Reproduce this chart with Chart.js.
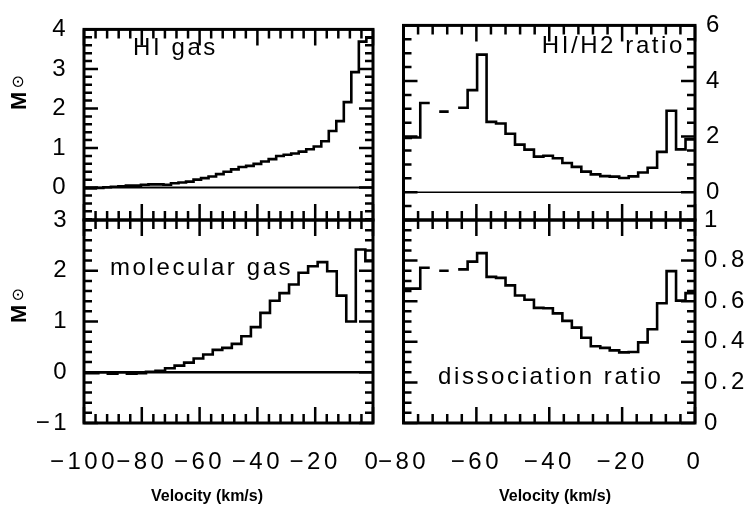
<!DOCTYPE html>
<html>
<head>
<meta charset="utf-8">
<script src="https://cdn.jsdelivr.net/npm/chart.js@4.4.0/dist/chart.umd.min.js"></script>
<style>
  html, body { margin: 0; padding: 0; background: #fff; }
  #wrap { position: relative; width: 754px; height: 514px; background: #fff; }
  #wrap canvas { position: absolute; left: 0; top: 0; }
</style>
</head>
<body>
<div id="wrap">
  <canvas id="cTL" width="754" height="514"></canvas>
  <canvas id="cTR" width="754" height="514"></canvas>
  <canvas id="cBL" width="754" height="514"></canvas>
  <canvas id="cBR" width="754" height="514"></canvas>
</div>
<script>
// ---------------- data ----------------
// HI gas (upper left), bin centres in km/s and mass in solar masses
const hiVelocity = [-99.8, -97.2, -94.6, -92.0, -89.4, -86.8, -84.2, -81.6, -79.0, -76.4,
                    -73.8, -71.2, -68.6, -66.0, -63.4, -60.8, -58.2, -55.6, -53.0, -50.4,
                    -47.8, -45.2, -42.6, -40.0, -37.4, -34.8, -32.2, -29.6, -27.0, -24.4,
                    -21.8, -19.2, -16.6, -14.0, -11.4, -8.8, -6.2, -3.6, -1.0];
const hiMass = [-0.02, -0.02, -0.01, 0.01, 0.02, 0.03, 0.05, 0.05, 0.07, 0.08,
                0.08, 0.07, 0.11, 0.13, 0.15, 0.20, 0.24, 0.28, 0.34, 0.40,
                0.46, 0.52, 0.55, 0.60, 0.66, 0.72, 0.80, 0.83, 0.86, 0.91,
                0.97, 1.04, 1.17, 1.43, 1.68, 2.16, 2.92, 3.69, 3.79];
const hiBinWidth = 2.6;

// molecular gas (lower left)
const h2Velocity = [-100.0, -96.7, -93.4, -90.1, -86.8, -83.5, -80.2, -76.9, -73.6, -70.3,
                    -67.0, -63.7, -60.4, -57.1, -53.8, -50.5, -47.2, -43.9, -40.6, -37.3,
                    -34.0, -30.7, -27.4, -24.1, -20.8, -17.5, -14.2, -10.9, -7.6, -4.3, -1.0];
const h2Mass = [-0.02, -0.02, 0.00, -0.03, 0.00, -0.03, -0.02, 0.01, 0.03, 0.08,
                0.13, 0.19, 0.27, 0.35, 0.44, 0.48, 0.56, 0.71, 0.89, 1.17,
                1.41, 1.56, 1.73, 1.96, 2.09, 2.17, 1.99, 1.51, 1.00, 2.42, 2.19];
const h2BinWidth = 3.3;

// ratios (right panels)
const ratioVelocity = [-79.3, -76.7, -74.1, -71.5, -68.9, -66.3, -63.7, -61.1, -58.5, -55.9,
                       -53.3, -50.7, -48.1, -45.5, -42.9, -40.3, -37.7, -35.1, -32.5, -29.9,
                       -27.3, -24.7, -22.1, -19.5, -16.9, -14.3, -11.7, -9.1, -6.5, -3.9, -1.3];
const hiH2Ratio = [1.95, 1.97, 3.21, null, 2.90, null, 3.04, 3.67, 4.95, 2.53,
                   2.47, 2.10, 1.71, 1.53, 1.28, 1.31, 1.22, 1.05, 0.91, 0.74,
                   0.64, 0.58, 0.56, 0.51, 0.57, 0.71, 0.88, 1.45, 2.93, 1.54, 1.90];
const dissociationRatio = [0.662, 0.662, 0.765, null, 0.750, null, 0.757, 0.795, 0.837, 0.720,
                           0.715, 0.678, 0.628, 0.607, 0.567, 0.565, 0.540, 0.503, 0.470, 0.420,
                           0.378, 0.370, 0.358, 0.348, 0.350, 0.397, 0.462, 0.590, 0.748, 0.603, 0.640];
const ratioBinWidth = 2.6;

// tick labels
const leftXTicks  = [-100, -80, -60, -40, -20, 0];
const rightXTicks = [-80, -60, -40, -20, 0];
const hiYTicks    = [0, 1, 2, 3, 4];
const ratioYTicks = [0, 2, 4, 6];
const h2YTicks    = [-1, 0, 1, 2, 3];
const dissYTicks  = [0, 0.2, 0.4, 0.6, 0.8, 1];

// ---------------- helpers ----------------
const W = 754, H = 514;
const FONT = "'Liberation Sans', Arial, Helvetica, sans-serif";
const Y_AXIS_W = 70, X_AXIS_H = 60;
const TICK_SPACING = 3.5;

function histPoints(centers, values, width) {
  const pts = [];
  centers.forEach((c, i) => {
    const v = values[i];
    if (v === null || v === undefined) { pts.push({ x: c, y: null }); return; }
    pts.push({ x: +(c - width / 2).toFixed(3), y: v });
    pts.push({ x: +(c + width / 2).toFixed(3), y: v });
  });
  return pts;
}

function fmt(v) {
  const n = Number(v);
  const s = String(Math.abs(Math.round(n * 1000) / 1000));
  return (n < 0 ? '\u2212' : '') + s;
}

function nearMultiple(v, step) {
  const r = Math.round(v / step) * step;
  return Math.abs(r - v) < 1e-6;
}

function makeFramePlugin(o) {
  return {
    id: 'frame',
    beforeDraw(chart) {
      // wider letter spacing for the tick labels drawn by the scales
      if ('letterSpacing' in chart.ctx) chart.ctx.letterSpacing = TICK_SPACING + 'px';
    },
    afterDraw(chart) {
      const { ctx, chartArea: a, scales: { x, y } } = chart;
      if ('letterSpacing' in ctx) ctx.letterSpacing = '0px';
      ctx.save();
      ctx.strokeStyle = '#000';
      ctx.fillStyle = '#000';
      ctx.lineCap = 'butt';
      ctx.lineWidth = 2.5;
      ctx.beginPath();
      // x ticks (inward on top and bottom)
      const x0 = Math.ceil(x.min / o.xMinor - 1e-9) * o.xMinor;
      for (let v = x0; v <= x.max + 1e-9; v += o.xMinor) {
        const px = x.getPixelForValue(v);
        const len = nearMultiple(v, o.xMajor) ? 16 : 9;
        ctx.moveTo(px, a.top); ctx.lineTo(px, a.top + len);
        ctx.moveTo(px, a.bottom); ctx.lineTo(px, a.bottom - len);
      }
      // y ticks (inward on left and right)
      const y0 = Math.ceil(y.min / o.yMinor - 1e-9) * o.yMinor;
      for (let v = y0; v <= y.max + 1e-9; v += o.yMinor) {
        const py = y.getPixelForValue(v);
        const len = nearMultiple(v, o.yMajor) ? 14 : 8;
        ctx.moveTo(a.left, py); ctx.lineTo(a.left + len, py);
        ctx.moveTo(a.right, py); ctx.lineTo(a.right - len, py);
      }
      ctx.stroke();
      ctx.lineWidth = 3;
      ctx.strokeRect(a.left, a.top, a.right - a.left, a.bottom - a.top);

      // panel label
      if (o.label) {
        ctx.font = '24px ' + FONT;
        if ('letterSpacing' in ctx) ctx.letterSpacing = '2.6px';
        ctx.textBaseline = 'middle';
        ctx.textAlign = o.label.align;
        ctx.fillText(o.label.text, o.label.x, o.label.y);
        if ('letterSpacing' in ctx) ctx.letterSpacing = '0px';
      }
      // y axis title  M_sun
      if (o.yTitle) {
        ctx.save();
        ctx.translate(o.yTitle.x, o.yTitle.y);
        ctx.rotate(-Math.PI / 2);
        ctx.textBaseline = 'middle';
        ctx.textAlign = 'left';
        ctx.font = 'bold 22px ' + FONT;
        ctx.fillText('M', 0, 0);
        ctx.font = '16px "DejaVu Sans", sans-serif';
        ctx.fillText('\u2299', 21.5, -1.5);
        ctx.restore();
      }
      // x axis title
      if (o.xTitle) {
        ctx.font = 'bold 16px ' + FONT;
        ctx.textAlign = 'center';
        ctx.textBaseline = 'middle';
        ctx.fillText(o.xTitle.text, o.xTitle.x, o.xTitle.y);
      }
      ctx.restore();
    }
  };
}

function panel(id, o) {
  const tickFont = { family: FONT, size: 24 };
  const xH = o.xLabels ? X_AXIS_H : 0;
  const pad = {
    left: o.yPos === 'left' ? o.box[0] - Y_AXIS_W : o.box[0],
    right: o.yPos === 'right' ? W - o.box[2] - Y_AXIS_W : W - o.box[2],
    top: o.box[1],
    bottom: H - o.box[3] - xH
  };
  return new Chart(document.getElementById(id), {
    type: 'line',
    data: { datasets: o.datasets },
    options: {
      responsive: false,
      animation: false,
      devicePixelRatio: 1,
      events: [],
      layout: { padding: pad },
      elements: { point: { radius: 0 }, line: { tension: 0, borderJoinStyle: 'miter', borderCapStyle: 'butt' } },
      plugins: { legend: { display: false }, tooltip: { enabled: false } },
      scales: {
        x: {
          type: 'linear', position: 'bottom', min: o.xMin, max: o.xMax,
          grid: { display: false, drawTicks: false }, border: { display: false },
          ticks: { display: o.xLabels, autoSkip: false, maxRotation: 0, minRotation: 0,
                   padding: 25, font: tickFont, color: '#000', callback: fmt },
          afterBuildTicks: s => { s.ticks = o.xTicks.map(v => ({ value: v })); },
          afterFit: s => { s.height = xH; }
        },
        y: {
          type: 'linear', position: o.yPos, min: o.yMin, max: o.yMax,
          grid: { display: false, drawTicks: false }, border: { display: false },
          ticks: { autoSkip: false, padding: o.yPad, font: tickFont, color: '#000', callback: fmt },
          afterBuildTicks: s => { s.ticks = o.yTicks.map(v => ({ value: v })); },
          afterFit: s => { s.width = Y_AXIS_W; }
        }
      }
    },
    plugins: [makeFramePlugin(o.frame)]
  });
}

function histDataset(points, width) {
  return { data: points, borderColor: '#000', borderWidth: width || 2.6, fill: false, spanGaps: false, pointRadius: 0 };
}
function zeroDataset(xMin, xMax, width) {
  return { data: [{ x: xMin, y: 0 }, { x: xMax, y: 0 }], borderColor: '#000', borderWidth: width, fill: false, pointRadius: 0 };
}

// ---------------- panels ----------------
const LEFT = [84, 373], RIGHT = [403.5, 695];
const TOP = [15, 220], BOTTOM = [220, 423];

panel('cTL', {
  box: [LEFT[0], TOP[0], LEFT[1], TOP[1]],
  xMin: -100, xMax: 0, xTicks: leftXTicks, xLabels: false,
  yMin: -0.82, yMax: 4, yTicks: hiYTicks, yPos: 'left', yPad: 15,
  datasets: [zeroDataset(-100, 0, 2), histDataset(histPoints(hiVelocity, hiMass, hiBinWidth))],
  frame: { xMinor: 4, xMajor: 20, yMinor: 0.2, yMajor: 1,
           label: { text: 'HI gas', x: 133, y: 48, align: 'left' },
           yTitle: { x: 20, y: 110 } }
});

panel('cTR', {
  box: [RIGHT[0], TOP[0], RIGHT[1], TOP[1]],
  xMin: -80, xMax: 0, xTicks: rightXTicks, xLabels: false,
  yMin: -1, yMax: 6, yTicks: ratioYTicks, yPos: 'right', yPad: 11,
  datasets: [zeroDataset(-80, 0, 1.6), histDataset(histPoints(ratioVelocity, hiH2Ratio, ratioBinWidth))],
  frame: { xMinor: 4, xMajor: 20, yMinor: 0.5, yMajor: 2,
           label: { text: 'HI/H2 ratio', x: 685, y: 46, align: 'right' } }
});

panel('cBL', {
  box: [LEFT[0], BOTTOM[0], LEFT[1], BOTTOM[1]],
  xMin: -100, xMax: 0, xTicks: leftXTicks, xLabels: true,
  yMin: -1, yMax: 3, yTicks: h2YTicks, yPos: 'left', yPad: 14,
  datasets: [zeroDataset(-100, 0, 2.6), histDataset(histPoints(h2Velocity, h2Mass, h2BinWidth))],
  frame: { xMinor: 4, xMajor: 20, yMinor: 0.2, yMajor: 1,
           label: { text: 'molecular gas', x: 110, y: 268, align: 'left' },
           yTitle: { x: 20, y: 323 },
           xTitle: { text: 'Velocity (km/s)', x: 207, y: 497 } }
});

panel('cBR', {
  box: [RIGHT[0], BOTTOM[0], RIGHT[1], BOTTOM[1]],
  xMin: -80, xMax: 0, xTicks: rightXTicks, xLabels: true,
  yMin: 0, yMax: 1, yTicks: dissYTicks, yPos: 'right', yPad: 9,
  datasets: [histDataset(histPoints(ratioVelocity, dissociationRatio, ratioBinWidth))],
  frame: { xMinor: 4, xMajor: 20, yMinor: 0.05, yMajor: 0.2,
           label: { text: 'dissociation ratio', x: 438, y: 377, align: 'left' },
           xTitle: { text: 'Velocity (km/s)', x: 555, y: 497 } }
});
</script>
</body>
</html>
